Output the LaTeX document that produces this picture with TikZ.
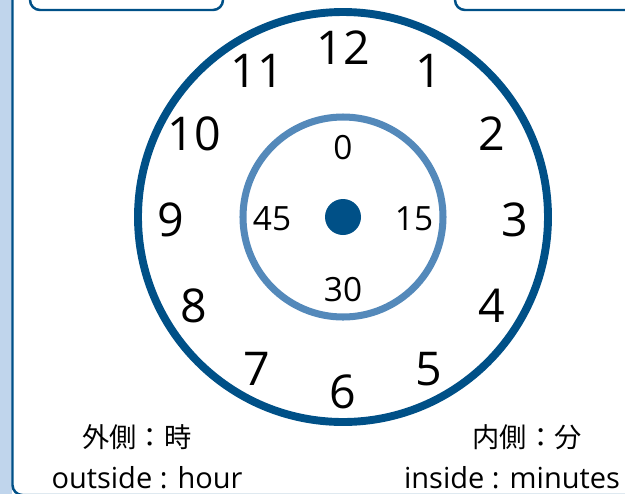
\documentclass[tikz,border=0pt]{standalone}
\usepackage{fontspec}
\setmainfont{Open Sans}
\newfontfamily\jpfont{Noto Sans CJK JP}
\definecolor{clockblue}{RGB}{0,80,135}
\definecolor{minuteblue}{RGB}{84,137,186}
\definecolor{paneblue}{RGB}{192,213,236}
\tikzset{
	hour/.style={font=\fontsize{26.5}{31}\selectfont, inner sep=0pt},
	minute/.style={font=\fontsize{19}{23}\selectfont, inner sep=0pt},
	legend/.style={font=\fontsize{16.5}{19}\selectfont, inner sep=0pt},
	jplegend/.style={font=\fontsize{15.5}{19}\selectfont\jpfont, inner sep=0pt},
	frame/.style={clockblue, line width=1.4pt, rounded corners=0.2cm},
}

\begin{document}
\begin{tikzpicture}
	\useasboundingbox (-6.86,-5.52) rectangle (5.64,4.34);

	% panel
	\fill[paneblue] (-6.86,-5.6) rectangle (-6.61,4.5);
	\draw[frame] (-6.61,4.5) -- (-6.61,-5.56) -- (6,-5.56);
	%%% boxes above
	\draw[frame] (-6.26,4.6) -- (-6.26,4.14) -- (-2.4,4.14) -- (-2.4,4.6);
	\draw[frame] (2.24,4.6) -- (2.24,4.14) -- (6,4.14);

	% dial
	\draw[clockblue, line width=4.5pt] (0,0) circle (4.1);
	\draw[minuteblue, line width=4pt] (0,0) circle (2);
	\fill[clockblue] (0,0) circle (0.36);

	%%% hours
	\foreach \h in {1,...,12}
		\node[hour, yshift=-0.06cm] (h\h) at (90-30*\h:3.44) {\h};
	%%% minutes
	\foreach \m/\a in {0/90,15/0,30/270,45/180}
		\node[minute, yshift=-0.04cm] (m\m) at (\a:1.42) {\m};

	% legend
	\node[jplegend] (jpout) at (-4.12,-4.40) {外側：時};
	\node[legend, anchor=base] (enout) at (-3.92,-5.42) {outside : hour};
	\node[jplegend] (jpin) at (3.68,-4.40) {内側：分};
	\node[legend, anchor=base] (enin) at (3.38,-5.42) {inside : minutes};
\end{tikzpicture}
\end{document}
